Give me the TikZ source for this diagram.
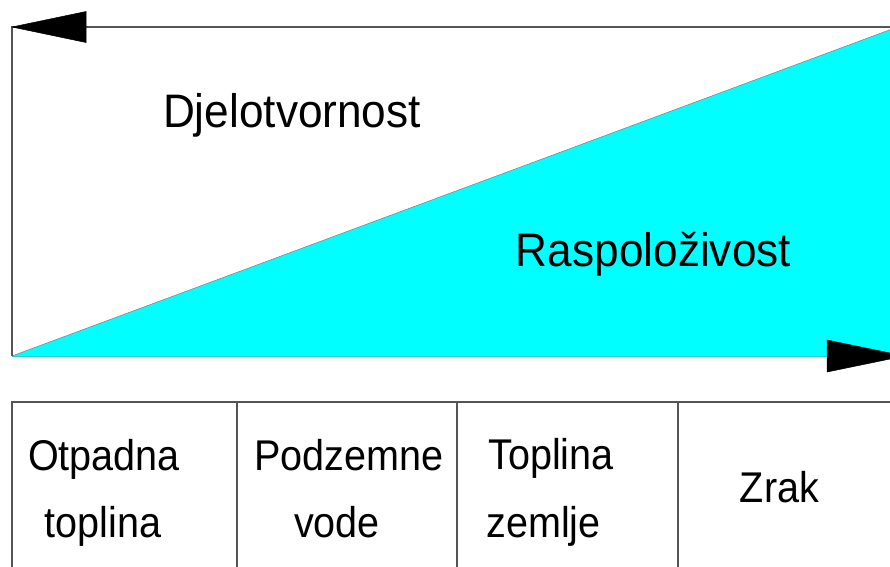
\documentclass[tikz,border=0pt]{standalone}
\usepackage{fontspec}
\setmainfont{Liberation Sans}
\definecolor{aqua}{HTML}{00FFFF}
\definecolor{edge}{HTML}{555555}
\tikzset{
  frame/.style={draw=edge, line width=1.4pt},
  thinedge/.style={draw=edge!70, line width=0.6pt},
  head/.style={fill=black, draw=black, line width=0.5pt, line join=miter},
  bigtext/.style={inner sep=0pt, outer sep=0pt, anchor=base, font=\fontsize{47}{56}\selectfont},
  celltext/.style={inner sep=0pt, outer sep=0pt, anchor=base, font=\fontsize{43}{50}\selectfont},
}
\newcommand{\narrowbig}[1]{\scalebox{0.94}[1]{#1}}
\newcommand{\narrowcell}[1]{\scalebox{0.92}[1]{#1}}
\begin{document}
\begin{tikzpicture}[x=1pt,y=-1pt]
\clip (0,0) rectangle (890,566);
\fill[white] (0,0) rectangle (890,566);
% coordinates
\coordinate (tl) at (12,27);
\coordinate (tr) at (892,27);
\coordinate (bl) at (12,356);
\coordinate (br) at (892,356);
\coordinate (apex) at (892,29);
% cyan wedge
\fill[aqua] (bl) -- (apex) -- (br) -- cycle;
\draw[thinedge] (bl) -- (apex);
\draw[draw=aqua!60!gray, line width=0.6pt] (bl) -- (br);
% frame
\draw[frame] (tr) -- (tl) -- (bl);
% arrow heads
\filldraw[head] (12,27) -- (86,11.5) -- (86,42.5) -- cycle;
\filldraw[head] (904.5,356) -- (827,340) -- (827,372) -- cycle;
% labels
\node[bigtext] (djel) at (292,127) {\narrowbig{Djelotvornost}};
\node[bigtext] (rasp) at (653.5,266) {\narrowbig{Raspoloživost}};
% table
\coordinate (t0) at (12,402);
\coordinate (t1) at (892,402);
\draw[frame] (t1) -- (t0) -- (12,570);
\draw[frame] (237,402) -- (237,570);
\draw[frame] (457,402) -- (457,570);
\draw[frame] (678,402) -- (678,570);
\node[celltext] (c1a) at (104,470) {\narrowcell{Otpadna}};
\node[celltext] (c1b) at (103,537) {\narrowcell{toplina}};
\node[celltext] (c2a) at (349,470) {\narrowcell{Podzemne}};
\node[celltext] (c2b) at (337,537) {\narrowcell{vode}};
\node[celltext] (c3a) at (551,469) {\narrowcell{Toplina}};
\node[celltext] (c3b) at (543.5,537) {\narrowcell{zemlje}};
\node[celltext] (c4) at (779.5,502) {\narrowcell{Zrak}};
\end{tikzpicture}
\end{document}
